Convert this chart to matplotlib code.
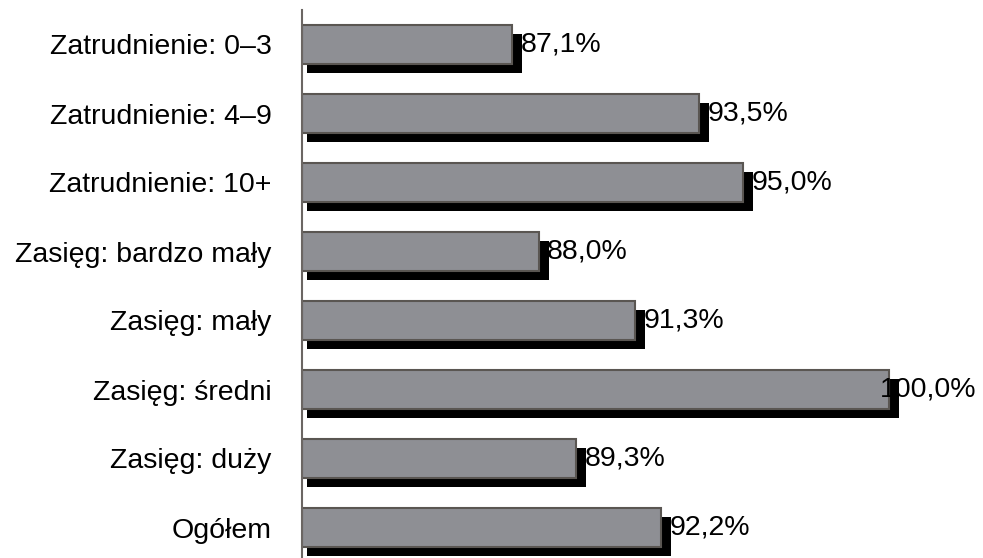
import matplotlib
matplotlib.use("Agg")
import matplotlib.pyplot as plt

categories = ["Zatrudnienie: 0–3", "Zatrudnienie: 4–9", "Zatrudnienie: 10+",
              "Zasięg: bardzo mały", "Zasięg: mały", "Zasięg: średni",
              "Zasięg: duży", "Ogółem"]
values = [87.1, 93.5, 95.0, 88.0, 91.3, 100.0, 89.3, 92.2]
labels = ["87,1%", "93,5%", "95,0%", "88,0%", "91,3%", "100,0%", "89,3%", "92,2%"]

plt.rcParams['font.family'] = ['Liberation Sans', 'DejaVu Sans']

W, H = 983, 558
fig = plt.figure(figsize=(W / 100, H / 100), dpi=100)

xmin = 79.9
px_per_unit_x = 29.2
row_px = 69.0
ax_left_px = 302
ax_width_px = 660
ax_top_px = 10
n = len(categories)
ax_height_px = n * row_px

ax = fig.add_axes([ax_left_px / W, 1 - (ax_top_px + ax_height_px) / H,
                   ax_width_px / W, ax_height_px / H])
xmax = xmin + ax_width_px / px_per_unit_x
ax.set_xlim(xmin, xmax)
ax.set_ylim(n - 0.5, -0.5)

ypos = list(range(n))
bar_h = 39 / row_px

# shadows
sh_dx_left = 5 / px_per_unit_x
sh_dx_right = 10 / px_per_unit_x
sh_dy = 9 / row_px
ax.barh([y + sh_dy for y in ypos], [v - xmin + sh_dx_right - sh_dx_left for v in values],
        left=xmin + sh_dx_left, height=bar_h, color="black", linewidth=0, zorder=1,
        clip_on=False)
# bars
ax.barh(ypos, [v - xmin for v in values], left=xmin, height=bar_h,
        color="#8e8f94", edgecolor="#5a5652", linewidth=1.5, zorder=2)

texts = []
for y, v, lab in zip(ypos, values, labels):
    t = ax.text(v + 8.5 / px_per_unit_x, y, lab, ha="left", va="center",
                fontsize=20.5, color="black", zorder=3, clip_on=False)
    texts.append((t, v, y))

fig.canvas.draw()
renderer = fig.canvas.get_renderer()
limit_px = W - 7
for t, v, y in texts:
    bb = t.get_window_extent(renderer)
    if bb.x1 > limit_px:
        shift = (bb.x1 - limit_px) / px_per_unit_x
        t.set_x(t.get_position()[0] - shift)

ax.set_yticks(ypos)
ax.set_yticklabels(categories, fontsize=20.5)
ax.tick_params(axis="y", length=0, pad=22)
ax.set_xticks([])
for s in ["top", "right", "bottom"]:
    ax.spines[s].set_visible(False)
ax.spines["left"].set_color("#6b6663")
ax.spines["left"].set_linewidth(1.5)
ax.spines["left"].set_zorder(4)

fig.savefig("out.png", dpi=100)
